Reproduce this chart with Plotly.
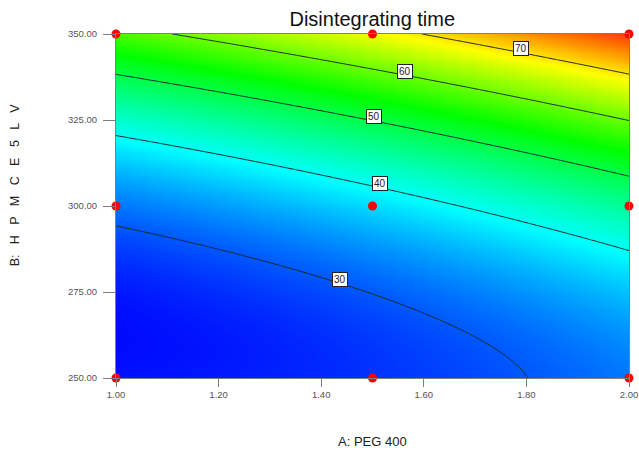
import numpy as np
import plotly.graph_objects as go

# ---- data -------------------------------------------------------------
# Disintegrating time: quadratic response surface, coded factors (-1..+1)
coef_names = ["b0", "A", "B", "AB", "A2", "B2"]
coef_values = [37.54, 6.91, 20.01, 4.00, 1.08, 10.31]

peg_range = [1.00, 2.00]          # A: PEG 400 (actual units)
hpmc_range = [250.0, 350.0]       # B: HPMC E5 LV (actual units)
color_range = [25.0, 83.0]        # response values mapped to blue ... red

contour_levels = [30, 40, 50, 60, 70]
label_peg = [1.4375, 1.514, 1.502, 1.564, 1.789]   # A value where each level label sits

design_peg = [1.0, 1.5, 2.0, 1.0, 1.5, 2.0, 1.0, 1.5, 2.0]
design_hpmc = [250, 250, 250, 300, 300, 300, 350, 350, 350]

x_ticks = [1.00, 1.20, 1.40, 1.60, 1.80, 2.00]
y_ticks = [250.0, 275.0, 300.0, 325.0, 350.0]

title_text = "Disintegrating time"
x_title = "A: PEG 400"
y_title = "B:   H   P   M   C   E   5   L   V"

# ---- model evaluation -------------------------------------------------
c = dict(zip(coef_names, coef_values))
a_mid = (peg_range[0] + peg_range[1]) / 2
a_half = (peg_range[1] - peg_range[0]) / 2
b_mid = (hpmc_range[0] + hpmc_range[1]) / 2
b_half = (hpmc_range[1] - hpmc_range[0]) / 2


def predict(xa, yb):
    A = (xa - a_mid) / a_half
    B = (yb - b_mid) / b_half
    return (c["b0"] + c["A"] * A + c["B"] * B + c["AB"] * A * B
            + c["A2"] * A ** 2 + c["B2"] * B ** 2)


def level_y(xa, level):
    A = (xa - a_mid) / a_half
    qa = c["B2"]
    qb = c["B"] + c["AB"] * A
    qc = c["b0"] + c["A"] * A + c["A2"] * A ** 2 - level
    disc = qb ** 2 - 4 * qa * qc
    roots = [(-qb + s * np.sqrt(disc)) / (2 * qa) for s in (1, -1)]
    B = [r for r in roots if -1.0001 <= r <= 1.0001][0]
    return b_mid + B * b_half


xg = np.linspace(peg_range[0], peg_range[1], 161)
yg = np.linspace(hpmc_range[0], hpmc_range[1], 161)
XX, YY = np.meshgrid(xg, yg)
ZZ = predict(XX, YY)

colorscale = [
    [0.00, "rgb(0,0,255)"],
    [0.25, "rgb(0,255,255)"],
    [0.50, "rgb(0,255,0)"],
    [0.75, "rgb(255,255,0)"],
    [1.00, "rgb(255,0,0)"],
]

FONT = "Liberation Sans, Arial, sans-serif"

fig = go.Figure()
fig.add_trace(go.Contour(
    x=xg, y=yg, z=ZZ,
    zmin=color_range[0], zmax=color_range[1],
    colorscale=colorscale, showscale=False,
    contours=dict(start=contour_levels[0], end=contour_levels[-1],
                  size=contour_levels[1] - contour_levels[0],
                  coloring="heatmap", showlabels=False),
    line=dict(color="#1e2a2a", width=1),
    hoverinfo="skip",
))

fig.add_trace(go.Scatter(
    x=design_peg, y=design_hpmc, mode="markers",
    marker=dict(color="#ff0000", size=9, line=dict(width=0)),
    cliponaxis=False, hoverinfo="skip",
))

annotations = []
for lev, lx in zip(contour_levels, label_peg):
    annotations.append(dict(
        x=lx, y=level_y(lx, lev), xref="x", yref="y", text=str(lev),
        showarrow=False, bgcolor="white", bordercolor="#222",
        borderwidth=1, borderpad=1, yshift=4,
        font=dict(family=FONT, size=10, color="#222"),
    ))

annotations.append(dict(
    x=0.5, y=0, xref="paper", yref="paper", yshift=-63, text=x_title,
    showarrow=False, yanchor="middle",
    font=dict(family=FONT, size=13, color="#222"),
))
annotations.append(dict(
    x=0, y=0.56, xref="paper", yref="paper", xshift=-101, text=y_title,
    showarrow=False, textangle=-90, xanchor="center", yanchor="middle",
    font=dict(family=FONT, size=12.5, color="#222"),
))

axis_common = dict(
    showgrid=False, zeroline=False, showline=True, mirror=True,
    linecolor="#7f7f7f", linewidth=1, ticks="outside",
    tickcolor="#7f7f7f", tickformat=".2f", automargin=False,
    tickfont=dict(family=FONT, size=9.5, color="#555"),
)

fig.update_layout(
    width=639, height=452,
    margin=dict(l=116, r=10, t=34, b=74),
    paper_bgcolor="white", plot_bgcolor="white",
    showlegend=False,
    title=dict(text=title_text, x=0.5826, xanchor="center", y=0.958,
               yanchor="middle",
               font=dict(family=FONT, size=20, color="#111")),
    xaxis=dict(range=peg_range, tickvals=x_ticks, ticklen=8, **axis_common),
    yaxis=dict(range=hpmc_range, tickvals=y_ticks, ticklen=12,
               ticklabelstandoff=4, **axis_common),
    annotations=annotations,
)

fig.write_html("out.html")
